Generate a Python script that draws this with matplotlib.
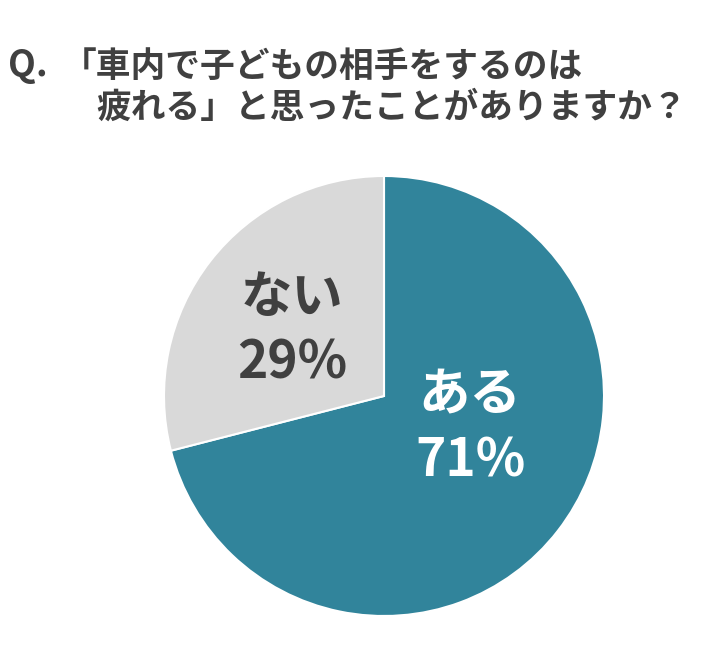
import matplotlib
matplotlib.use("Agg")
import matplotlib.pyplot as plt

plt.rcParams['font.family'] = ['Noto Sans CJK JP', 'DejaVu Sans']

labels = ["ある", "ない"]
values = [71, 29]
colors = ["#31849B", "#D9D9D9"]
text_colors = ["white", "#404040"]

W, H = 720, 648
fig = plt.figure(figsize=(W / 100, H / 100), dpi=100)
fig.patch.set_facecolor("white")

# title
fig.text(8 / W, 1 - 66 / H, "Q.", fontsize=26, fontweight="bold", color="#404040", va="center", ha="left")
fig.text(62 / W, 1 - 66 / H, "「車内で子どもの相手をするのは", fontsize=25, fontweight="bold",
         color="#404040", va="center", ha="left")
fig.text(96 / W, 1 - 107 / H, "疲れる」と思ったことがありますか？", fontsize=25, fontweight="bold",
         color="#404040", va="center", ha="left")

cx, cy, r = 384, 396, 220
ax = fig.add_axes([(cx - r) / W, 1 - (cy + r) / H, 2 * r / W, 2 * r / H])
wedges, _ = ax.pie(values, colors=colors, startangle=90, counterclock=False,
                   wedgeprops=dict(edgecolor="white", linewidth=1.5))
ax.set_aspect("equal")
ax.set_xlim(-1, 1)
ax.set_ylim(-1, 1)
ax.axis("off")

label_pos = [((470 - cx) / r, (cy - 428) / r), ((292 - cx) / r, (cy - 330) / r)]
for lab, v, (x, y), tc in zip(labels, values, label_pos, text_colors):
    ax.text(x, y, f"{lab}\n{v}%", ha="center", va="center", fontsize=37, fontweight="bold",
            color=tc, linespacing=1.3)

fig.savefig("out.png", dpi=100, facecolor="white")
